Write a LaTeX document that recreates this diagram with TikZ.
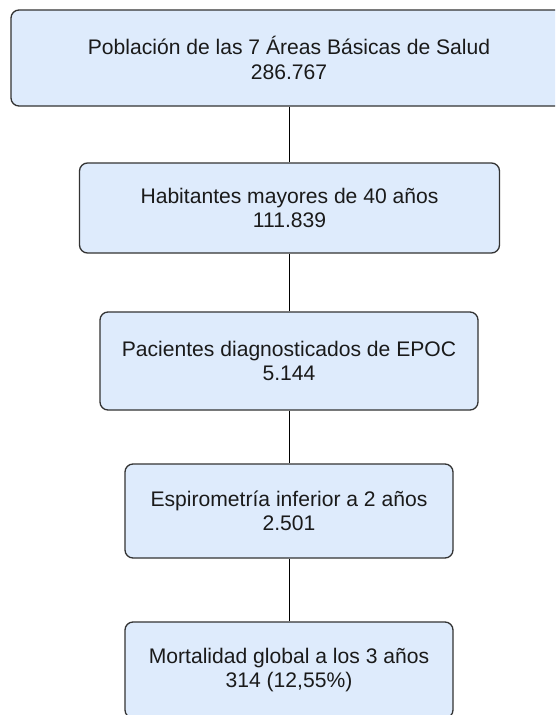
\documentclass[tikz,border=0pt]{standalone}
\usepackage{fontspec}
\setmainfont{Liberation Sans}
\definecolor{boxfill}{HTML}{DEEBFC}
\definecolor{boxline}{HTML}{333333}
\definecolor{txt}{HTML}{1A1A1A}
\begin{document}
\begin{tikzpicture}[x=1pt,y=-1pt,
  flowbox/.style={draw=boxline, fill=boxfill, line width=1.3pt, rounded corners=8pt,
    align=center, inner sep=0pt, text=txt,
    font=\fontsize{21.1}{24.3}\selectfont},
  link/.style={draw=black, line width=1pt}]
\useasboundingbox (0,0) rectangle (555,715);
\clip (0,0) rectangle (555,715);
\fill[white] (0,0) rectangle (555,715);
\node[flowbox, minimum width=556pt, minimum height=96pt] (b1) at (289,58)
  {Población de las 7 Áreas Básicas de Salud\\286.767};
\node[flowbox, minimum width=420pt, minimum height=90pt] (b2) at (289.5,208)
  {Habitantes mayores de 40 años\\111.839};
\node[flowbox, minimum width=378pt, minimum height=98pt] (b3) at (289,361)
  {Pacientes diagnosticados de EPOC\\5.144};
\node[flowbox, minimum width=328pt, minimum height=94pt] (b4) at (289,511)
  {Espirometría inferior a 2 años\\2.501};
\node[flowbox, minimum width=328pt, minimum height=96pt] (b5) at (289,670)
  {Mortalidad global a los 3 años\\314 (12,55\%)};
\draw[link] (b1.south -| b2.north) -- (b2.north);
\draw[link] (b2.south) -- (b3.north -| b2.south);
\draw[link] (b3.south) -- (b4.north);
\draw[link] (b4.south) -- (b5.north);
\end{tikzpicture}
\end{document}
